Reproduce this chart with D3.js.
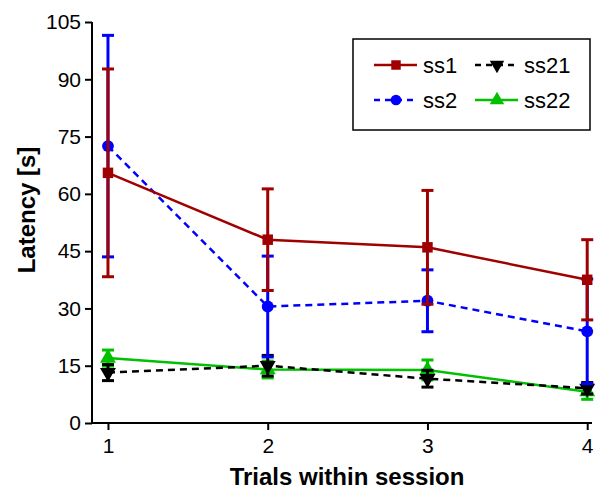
<!DOCTYPE html>
<html>
<head>
<meta charset="utf-8">
<script src="https://cdn.jsdelivr.net/npm/d3@7"></script>
<style>
  body { margin: 0; background: #fff; }
  text { font-family: "Liberation Sans", Arial, sans-serif; }
</style>
</head>
<body>
<svg id="chart" width="597" height="492"></svg>
<script>
var trials = [1, 2, 3, 4];
var yTicks = [0, 15, 30, 45, 60, 75, 90, 105];

var ss1Mean  = [65.5, 48.0, 46.0, 37.5];
var ss1Err   = [27.2, 13.3, 14.9, 10.5];
var ss2Mean  = [72.5, 30.5, 32.0, 24.0];
var ss2Err   = [29.0, 13.2, 8.1, 13.7];
var ss21Mean = [13.2, 15.0, 11.6, 9.1];
var ss21Err  = [2.1, 2.7, 2.2, 1.5];
var ss22Mean = [17.0, 14.0, 13.9, 8.2];
var ss22Err  = [2.1, 2.2, 2.6, 2.0];

var series = [
  {name: "ss1",  mean: ss1Mean,  err: ss1Err,  color: "#a00000", dash: null,  symbol: d3.symbolSquare},
  {name: "ss2",  mean: ss2Mean,  err: ss2Err,  color: "#0000ff", dash: "7,5", symbol: d3.symbolCircle},
  {name: "ss21", mean: ss21Mean, err: ss21Err, color: "#000000", dash: "7,5", symbol: "down"},
  {name: "ss22", mean: ss22Mean, err: ss22Err, color: "#00c000", dash: null,  symbol: d3.symbolTriangle}
];
// drawing order: bottom to top
var drawOrder = ["ss22", "ss21", "ss2", "ss1"];

var svg = d3.select("#chart");

var x = d3.scaleLinear().domain([0.9, 4.03]).range([92, 592]);
var y = d3.scaleLinear().domain([0, 105]).range([423, 22]);

// axes
var yAxis = d3.axisLeft(y).tickValues(yTicks).tickSize(7).tickPadding(4);
var xAxis = d3.axisBottom(x).tickValues(trials).tickSize(7).tickPadding(8).tickFormat(d3.format("d"));

var gy = svg.append("g").attr("transform", "translate(92,0)").call(yAxis);
var gx = svg.append("g").attr("transform", "translate(0,423)").call(xAxis);
[gy, gx].forEach(function(g) {
  g.select(".domain").attr("stroke", "#000").attr("stroke-width", 2);
  g.selectAll(".tick line").attr("stroke", "#000").attr("stroke-width", 2);
  g.selectAll(".tick text").attr("fill", "#000").style("font-size", "21px");
});
gy.select(".domain").attr("d", "M0," + y(105) + "V" + y(0));
gx.select(".domain").attr("d", "M92,0H592");

svg.append("text")
  .attr("transform", "translate(35,210) rotate(-90)")
  .attr("text-anchor", "middle")
  .style("font-size", "24px").style("font-weight", "bold")
  .text("Latency [s]");

svg.append("text")
  .attr("x", 347).attr("y", 485)
  .attr("text-anchor", "middle")
  .style("font-size", "24px").style("font-weight", "bold")
  .text("Trials within session");

function symbolPath(sym, size) {
  if (sym === "down") {
    return d3.symbol().type(d3.symbolTriangle).size(size)();
  }
  return d3.symbol().type(sym).size(size)();
}

var line = d3.line().x(function(d) { return x(d.t); }).y(function(d) { return y(d.v); });
var plot = svg.append("g");

drawOrder.forEach(function(nm) {
  var s = series.find(function(e) { return e.name === nm; });
  var pts = trials.map(function(t, i) { return {t: t, v: s.mean[i], e: s.err[i]}; });
  var g = plot.append("g");

  // error bars
  var eb = g.selectAll("g.err").data(pts).enter().append("g");
  eb.append("line")
    .attr("x1", function(d) { return x(d.t); }).attr("x2", function(d) { return x(d.t); })
    .attr("y1", function(d) { return y(d.v - d.e); }).attr("y2", function(d) { return y(d.v + d.e); })
    .attr("stroke", s.color).attr("stroke-width", 3);
  [-1, 1].forEach(function(sg) {
    eb.append("line")
      .attr("x1", function(d) { return x(d.t) - 6; }).attr("x2", function(d) { return x(d.t) + 6; })
      .attr("y1", function(d) { return y(d.v + sg * d.e); }).attr("y2", function(d) { return y(d.v + sg * d.e); })
      .attr("stroke", s.color).attr("stroke-width", 3);
  });

  g.append("path").datum(pts)
    .attr("d", line)
    .attr("fill", "none")
    .attr("stroke", s.color).attr("stroke-width", 2.5)
    .attr("stroke-dasharray", s.dash);

  g.selectAll("path.mk").data(pts).enter().append("path")
    .attr("d", symbolPath(s.symbol, 110))
    .attr("transform", function(d) {
      return "translate(" + x(d.t) + "," + y(d.v) + ")" + (s.symbol === "down" ? " rotate(180)" : "");
    })
    .attr("fill", s.color);
});

// legend
var leg = svg.append("g");
leg.append("rect")
  .attr("x", 353).attr("y", 39).attr("width", 237).attr("height", 91)
  .attr("fill", "#fff").attr("stroke", "#000").attr("stroke-width", 1.5);

var legPos = {
  ss1:  [374, 65],
  ss21: [475, 65],
  ss2:  [374, 100],
  ss22: [475, 100]
};
series.forEach(function(s) {
  var p = legPos[s.name];
  leg.append("line")
    .attr("x1", p[0]).attr("x2", p[0] + 43)
    .attr("y1", p[1]).attr("y2", p[1])
    .attr("stroke", s.color).attr("stroke-width", 2.5)
    .attr("stroke-dasharray", s.dash ? "6,5" : null);
  leg.append("path")
    .attr("d", symbolPath(s.symbol, 90))
    .attr("transform", "translate(" + (p[0] + 22) + "," + p[1] + ")" + (s.symbol === "down" ? " rotate(180)" : ""))
    .attr("fill", s.color);
  leg.append("text")
    .attr("x", p[0] + 49).attr("y", p[1] + 8)
    .style("font-size", "22px").attr("fill", "#000")
    .text(s.name);
});
</script>
</body>
</html>
